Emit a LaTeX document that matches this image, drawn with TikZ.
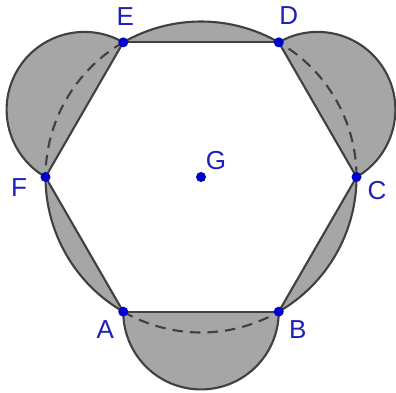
\documentclass[tikz,border=0pt]{standalone}
\usepackage{fontspec}
\setsansfont{Liberation Sans}
\usepackage{xcolor}
\usepackage{tikz}
\usetikzlibrary{calc}
\definecolor{lunegray}{RGB}{166,166,166}
\definecolor{edgegray}{RGB}{64,64,64}
\definecolor{ptblue}{RGB}{0,0,205}
\definecolor{lblblue}{RGB}{30,30,185}

\begin{document}
\begin{tikzpicture}[
  x=1cm, y=1cm,
  edge/.style={draw=edgegray, line width=0.6pt},
  dashedarc/.style={edge, dash pattern=on 3pt off 2pt},
  pt/.style={fill=ptblue},
  lbl/.style={text=lblblue, font=\sffamily\fontsize{7.4}{8}\selectfont, inner sep=0pt},
]
\useasboundingbox (-2.01,-2.15) rectangle (1.95,1.77);
\def\R{1.555}
\def\r{0.7775}

%% --- hexagon corners and centre ---
\coordinate (G) at (0,0);
\coordinate (A) at (240:\R);
\coordinate (B) at (300:\R);
\coordinate (C) at (0:\R);
\coordinate (D) at (60:\R);
\coordinate (E) at (120:\R);
\coordinate (F) at (180:\R);

%% --- grey region: semicircles on AB, CD, EF and circumcircle arcs ---
\fill[lunegray, even odd rule]
  (A) arc[start angle=180, end angle=360, radius=\r]
      arc[start angle=300, end angle=360, radius=\R]
      arc[start angle=-60, end angle=120, radius=\r]
      arc[start angle=60, end angle=120, radius=\R]
      arc[start angle=60, end angle=240, radius=\r]
      arc[start angle=180, end angle=240, radius=\R] -- cycle
  (A) -- (B) -- (C) -- (D) -- (E) -- (F) -- cycle;

%% --- outline ---
\draw[edge]
  (A) arc[start angle=180, end angle=360, radius=\r]
      arc[start angle=300, end angle=360, radius=\R]
      arc[start angle=-60, end angle=120, radius=\r]
      arc[start angle=60, end angle=120, radius=\R]
      arc[start angle=60, end angle=240, radius=\r]
      arc[start angle=180, end angle=240, radius=\R];

%% --- hexagon sides ---
\draw[edge] (A) -- (B);
\draw[edge] (B) -- (C);
\draw[edge] (C) -- (D);
\draw[edge] (D) -- (E);
\draw[edge] (E) -- (F);
\draw[edge] (F) -- (A);

%% --- dashed circumcircle arcs ---
\draw[dashedarc] (A) arc[start angle=240, end angle=300, radius=\R];
\draw[dashedarc] (C) arc[start angle=0, end angle=60, radius=\R];
\draw[dashedarc] (E) arc[start angle=120, end angle=180, radius=\R];

%% --- points ---
\foreach \p in {A,B,C,D,E,F,G}
  \fill[pt] (\p) circle (0.05);

%% --- labels ---
\node[lbl] (lA) at ($(A)+(-0.18,-0.18)$) {A};
\node[lbl] (lB) at ($(B)+(0.19,-0.18)$) {B};
\node[lbl] (lC) at ($(C)+(0.205,-0.14)$) {C};
\node[lbl] (lD) at ($(D)+(0.10,0.27)$) {D};
\node[lbl] (lE) at ($(E)+(0.02,0.26)$) {E};
\node[lbl] (lF) at ($(F)+(-0.265,-0.11)$) {F};
\node[lbl] (lG) at ($(G)+(0.15,0.16)$) {G};

\end{tikzpicture}
\end{document}
